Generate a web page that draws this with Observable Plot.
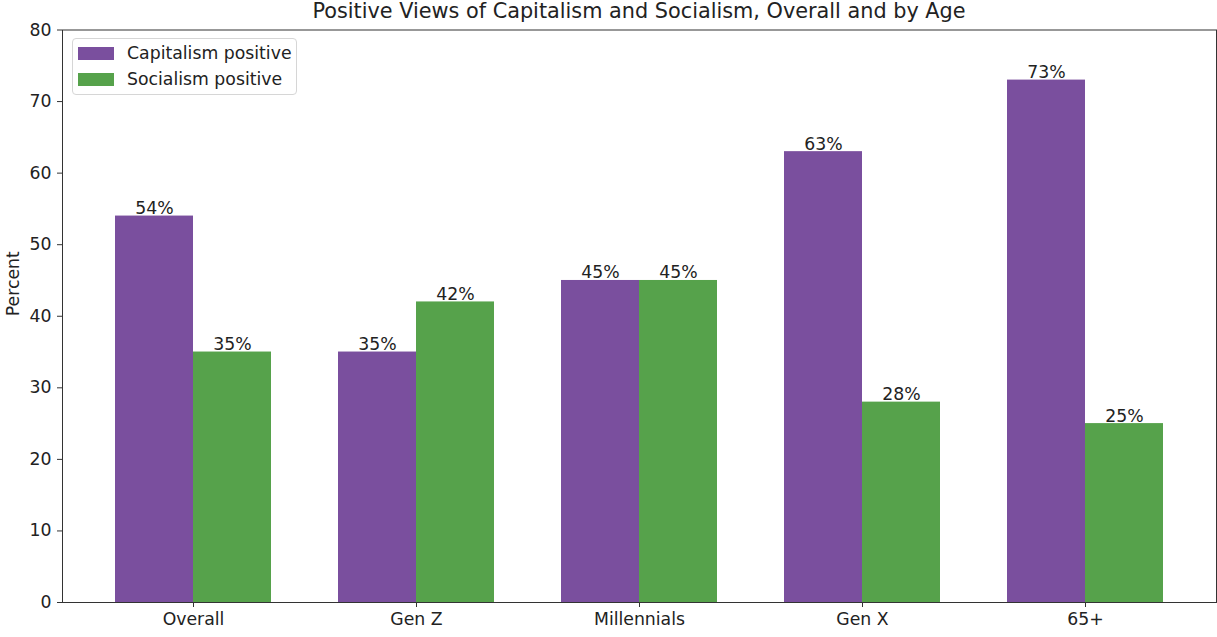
<!DOCTYPE html>
<html><head><meta charset="utf-8">
<script src="https://cdn.jsdelivr.net/npm/d3@7"></script>
<script src="https://cdn.jsdelivr.net/npm/@observablehq/plot@0.6"></script>
<style>
body{margin:0;background:#fff;font-family:"DejaVu Sans",sans-serif;}
#wrap{position:relative;width:1217px;height:637px;overflow:hidden;}
#title{position:absolute;top:1px;left:62px;width:1154px;text-align:center;font-size:20.8px;line-height:20.8px;color:#222;white-space:nowrap;}
#legend{position:absolute;left:72px;top:38px;width:223px;height:55px;border:1px solid #d6d6d6;border-radius:4px;background:rgba(255,255,255,0.85);font-size:17.3px;color:#222;}
.item{position:absolute;left:5px;height:20px;display:flex;align-items:center;white-space:nowrap;}
.sw{width:36px;height:13px;margin-right:13px;}
#plot{position:absolute;left:0;top:0;}
</style></head>
<body>
<div id="wrap">
  <div id="plot"></div>
  <div id="title"></div>
  <div id="legend"></div>
</div>
<script>
const categories = ["Overall", "Gen Z", "Millennials", "Gen X", "65+"];
const capitalism = [54, 35, 45, 63, 73];
const socialism = [35, 42, 45, 28, 25];
const seriesNames = ["Capitalism positive", "Socialism positive"];
const seriesColors = ["#7a4f9e", "#56a24b"];
const yTicks = [0, 10, 20, 30, 40, 50, 60, 70, 80];
const titleText = "Positive Views of Capitalism and Socialism, Overall and by Age";
const yLabel = "Percent";

const capData = categories.map((c, i) => ({category: c, value: capitalism[i]}));
const socData = categories.map((c, i) => ({category: c, value: socialism[i]}));

const half = 78;
const fs = 17.3;
const chart = Plot.plot({
  width: 1217,
  height: 637,
  marginLeft: 62,
  marginRight: 1,
  marginTop: 29.5,
  marginBottom: 35,
  style: {fontFamily: "DejaVu Sans", fontSize: fs + "px", color: "#222", background: "transparent"},
  x: {domain: categories, paddingInner: 0.3, paddingOuter: 0.235},
  y: {domain: [0, 80]},
  marks: [
    Plot.barY(capData, {x: "category", y: "value", fill: seriesColors[0], insetRight: half}),
    Plot.barY(socData, {x: "category", y: "value", fill: seriesColors[1], insetLeft: half}),
    Plot.text(capData, {x: "category", y: "value", text: d => d.value + "%", dx: -half / 2, dy: -2, lineAnchor: "bottom", fill: "#222", fontSize: fs}),
    Plot.text(socData, {x: "category", y: "value", text: d => d.value + "%", dx: half / 2, dy: -2, lineAnchor: "bottom", fill: "#222", fontSize: fs}),
    Plot.frame({stroke: "#333", strokeWidth: 1}),
    Plot.axisY({ticks: yTicks, tickSize: 5, tickPadding: 6, label: null, stroke: "#333", fontSize: fs}),
    Plot.axisX({tickSize: 5, tickPadding: 5, label: null, stroke: "#333", fontSize: fs}),
    Plot.text([yLabel], {frameAnchor: "left", rotate: -90, dx: -49, fill: "#222", fontSize: fs})
  ]
});
document.getElementById("plot").appendChild(chart);
document.getElementById("title").textContent = titleText;
const legend = document.getElementById("legend");
seriesNames.forEach((name, i) => {
  const item = document.createElement("div");
  item.className = "item";
  item.style.top = (i === 0 ? 4 : 30) + "px";
  const sw = document.createElement("span");
  sw.className = "sw";
  sw.style.background = seriesColors[i];
  const t = document.createElement("span");
  t.textContent = name;
  item.appendChild(sw);
  item.appendChild(t);
  legend.appendChild(item);
});
</script>
</body></html>
